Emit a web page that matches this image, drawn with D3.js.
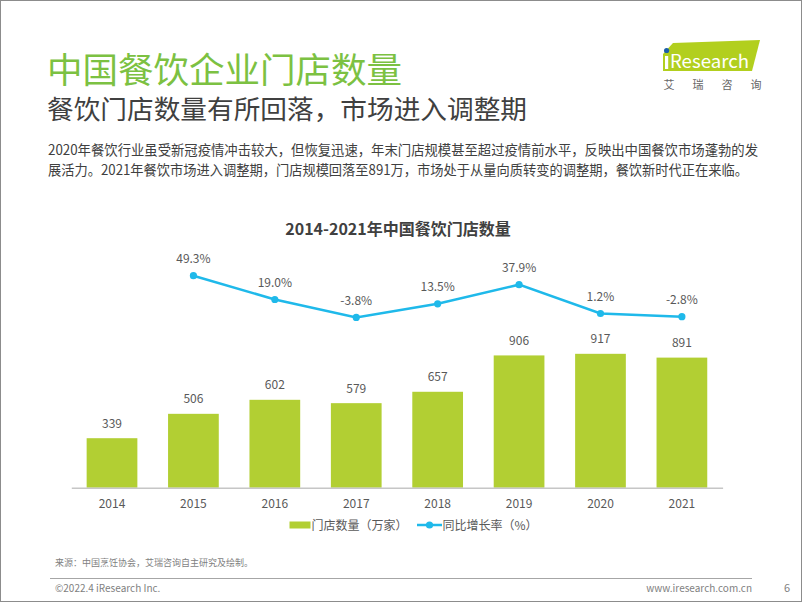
<!DOCTYPE html>
<html>
<head>
<meta charset="utf-8">
<script src="https://cdn.jsdelivr.net/npm/d3@7"></script>
<style>
html,body{margin:0;padding:0;background:#fff;}
svg{display:block;}
text{font-family:"Noto Sans CJK SC","Noto Sans",sans-serif;}
</style>
</head>
<body>
<svg id="chart" width="802" height="602"></svg>
<script>
const years = ['2014','2015','2016','2017','2018','2019','2020','2021'];
const stores = [339, 506, 602, 579, 657, 906, 917, 891];
const growth = [null, 49.3, 19.0, -3.8, 13.5, 37.9, 1.2, -2.8];
const legendLabels = ['门店数量（万家）', '同比增长率（%）'];
const chartTitle = '2014-2021年中国餐饮门店数量';
const pageTitle = '中国餐饮企业门店数量';
const subTitle = '餐饮门店数量有所回落，市场进入调整期';
const paraLines = [
  '2020年餐饮行业虽受新冠疫情冲击较大，但恢复迅速，年末门店规模甚至超过疫情前水平，反映出中国餐饮市场蓬勃的发',
  '展活力。2021年餐饮市场进入调整期，门店规模回落至891万，市场处于从量向质转变的调整期，餐饮新时代正在来临。'
];
const sourceText = '来源：中国烹饪协会，艾瑞咨询自主研究及绘制。';

const GREEN = '#b2cf33';
const BLUE = '#1fb9ea';
const TXT = '#595959';

const svg = d3.select('#chart');

// border
svg.append('rect').attr('x',0.5).attr('y',0.5).attr('width',801).attr('height',601)
  .attr('fill','none').attr('stroke','#8c8c8c').attr('stroke-width',1);

// page titles
svg.append('text').attr('x',47).attr('y',83).attr('font-size',35).attr('fill','#7cc142')
  .attr('textLength',355).attr('lengthAdjust','spacingAndGlyphs').text(pageTitle);
svg.append('text').attr('x',47).attr('y',119).attr('font-size',26).attr('fill','#404040')
  .attr('textLength',480).attr('lengthAdjust','spacingAndGlyphs').text(subTitle);
svg.selectAll('.para').data(paraLines).join('text').attr('class','para')
  .attr('x',48).attr('y',(d,i)=>155 + i*20).attr('font-size',14).attr('fill','#404040')
  .attr('textLength',(d,i)=> i===0 ? 710 : 700).attr('lengthAdjust','spacingAndGlyphs')
  .text(d=>d);

// logo
const logo = svg.append('g');
logo.append('path').attr('d','M673,43 L760,40 L752,71 L663,71 L663,54 Z').attr('fill','#b2cf1e');
logo.append('rect').attr('x',665).attr('y',56).attr('width',3.2).attr('height',13).attr('fill','#fff');
logo.append('circle').attr('cx',666.6).attr('cy',50.5).attr('r',2.6).attr('fill','#1c5fa8');
logo.append('text').attr('x',670).attr('y',68).attr('font-size',18).attr('fill','#fff')
  .attr('font-family','"Open Sans",sans-serif').attr('textLength',79).attr('lengthAdjust','spacingAndGlyphs').text('Research');
['艾','瑞','咨','询'].forEach((c,i)=>{
  logo.append('text').attr('x',669 + i*29).attr('y',89).attr('font-size',11).attr('fill','#666')
    .attr('text-anchor','middle').text(c);
});

// chart title
svg.append('text').attr('x',398).attr('y',235).attr('text-anchor','middle')
  .attr('font-size',16).attr('font-weight','bold').attr('fill','#404040').text(chartTitle);

// scales
const x = d3.scaleBand().domain(years).range([71.3, 722.6]).paddingInner(0.377).paddingOuter(0.1885);
const yBar = d3.scaleLinear().domain([0, 1000]).range([487.7, 341.7]);
const yLine = d3.scaleLinear().domain([-10, 60]).range([322.3, 267.3]);

// bars
svg.append('g').selectAll('rect').data(stores).join('rect')
  .attr('x',(d,i)=>x(years[i])).attr('width',x.bandwidth())
  .attr('y',d=>yBar(d)).attr('height',d=>yBar(0)-yBar(d)).attr('fill',GREEN);
svg.append('g').selectAll('text').data(stores).join('text')
  .attr('x',(d,i)=>x(years[i])+x.bandwidth()/2).attr('y',d=>yBar(d)-10.5)
  .attr('text-anchor','middle').attr('font-size',12).attr('fill',TXT).text(d=>d);

// axis
const axis = svg.append('g').attr('transform',`translate(0,${yBar(0)})`)
  .call(d3.axisBottom(x).tickSize(0).tickPadding(12));
axis.select('.domain').attr('stroke','#c6c6c6').attr('stroke-width',1.5);
axis.selectAll('text').attr('font-size',12).attr('fill',TXT)
  .attr('font-family','"Noto Sans CJK SC","Noto Sans",sans-serif');

// line
const pts = years.map((yr,i)=>({yr, v:growth[i]})).filter(d=>d.v!==null);
const line = d3.line().x(d=>x(d.yr)+x.bandwidth()/2).y(d=>yLine(d.v));
svg.append('path').datum(pts).attr('d',line).attr('fill','none')
  .attr('stroke',BLUE).attr('stroke-width',2.5);
svg.append('g').selectAll('circle').data(pts).join('circle')
  .attr('cx',d=>x(d.yr)+x.bandwidth()/2).attr('cy',d=>yLine(d.v)).attr('r',3.6).attr('fill',BLUE);
svg.append('g').selectAll('text').data(pts).join('text')
  .attr('x',d=>x(d.yr)+x.bandwidth()/2).attr('y',d=>yLine(d.v)-12.4)
  .attr('text-anchor','middle').attr('font-size',12).attr('fill',TXT).text(d=>d.v.toFixed(1)+'%');

// legend
const lg = svg.append('g');
lg.append('rect').attr('x',289.5).attr('y',521.5).attr('width',21).attr('height',7).attr('fill',GREEN);
lg.append('text').attr('x',311.5).attr('y',529.5).attr('font-size',12).attr('fill',TXT).text(legendLabels[0]);
lg.append('line').attr('x1',417).attr('x2',442).attr('y1',525).attr('y2',525).attr('stroke',BLUE).attr('stroke-width',2.5);
lg.append('circle').attr('cx',429.5).attr('cy',525).attr('r',3.6).attr('fill',BLUE);
lg.append('text').attr('x',442.5).attr('y',529.5).attr('font-size',12).attr('fill',TXT).text(legendLabels[1]);

// footer
svg.append('text').attr('x',55).attr('y',566).attr('font-size',9).attr('fill','#7f7f7f').text(sourceText);
svg.append('line').attr('x1',50).attr('x2',752).attr('y1',578.5).attr('y2',578.5).attr('stroke','#a6a6a6').attr('stroke-width',1.2);
svg.append('text').attr('x',55).attr('y',592).attr('font-size',10).attr('fill','#7f7f7f').text('©2022.4 iResearch Inc.');
svg.append('text').attr('x',752).attr('y',592).attr('text-anchor','end').attr('font-size',10).attr('fill','#7f7f7f').text('www.iresearch.com.cn');
svg.append('text').attr('x',787).attr('y',592).attr('text-anchor','middle').attr('font-size',11).attr('fill','#7f7f7f').text('6');
</script>
</body>
</html>
